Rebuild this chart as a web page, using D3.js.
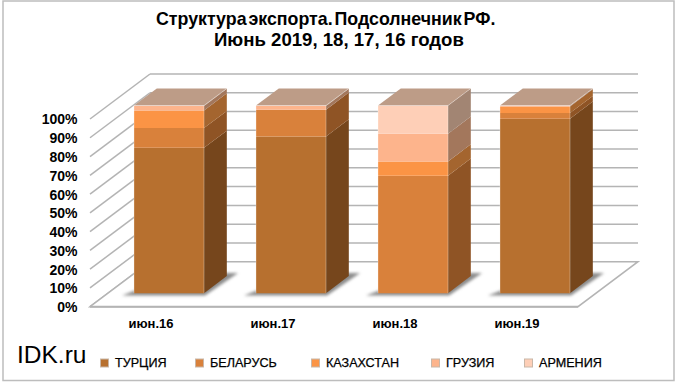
<!DOCTYPE html>
<html>
  <head>
    <meta charset="utf-8" />
    <title>Подсолнечник</title>
    <script src="https://d3js.org/d3.v7.min.js"></script>
    <style>
      html, body { margin: 0; padding: 0; background: #fff; }
      svg { display: block; }
      text { font-family: "Liberation Sans", Arial, sans-serif; fill: #000; }
    </style>
  </head>

  <body>
    <svg id="viz" width="680" height="385"></svg>

    <script>
        var categories = ["июн.16", "июн.17", "июн.18", "июн.19"];
        var seriesNames = ["ТУРЦИЯ", "БЕЛАРУСЬ", "КАЗАХСТАН", "ГРУЗИЯ", "АРМЕНИЯ"];
        var turkey = [77.5, 83.5, 0, 93];
        var belarus = [10.5, 14.3, 62.6, 3];
        var kazakhstan = [9.4, 0, 7.6, 3.5];
        var georgia = [2.4, 2, 14.8, 0.3];
        var armenia = [0.2, 0.2, 15, 0.2];
        var yTicks = [0, 10, 20, 30, 40, 50, 60, 70, 80, 90, 100];
        var titleLines = ["Структура экспорта. Подсолнечник РФ.", "Июнь 2019, 18, 17, 16 годов"];

        var frontColors = ["#b7702f", "#d9813b", "#fb9445", "#fdb48c", "#fecfb7"];
        var sideColors = ["#76461c", "#8f5425", "#a4652f", "#a3775c", "#a28573"];
        var topColor = "#bd9c87";
        var gridColor = "#b4b4b4";

        var values = [turkey, belarus, kazakhstan, georgia, armenia];

        var svg = d3.select("#viz");

        var defs = svg.append("defs");
        defs.append("filter").attr("id", "blur")
            .attr("x", "-20%").attr("y", "-50%").attr("width", "140%").attr("height", "200%")
            .append("feGaussianBlur").attr("stdDeviation", 1.8);

        svg.append("rect")
            .attr("x", 3).attr("y", 1)
            .attr("width", 671).attr("height", 379.5)
            .attr("fill", "#fff")
            .attr("stroke", "#bdbdbd")
            .attr("stroke-width", 1.5);

        var y = d3.scaleLinear().domain([0, 100]).range([306.7, 119]);
        var x = d3.scaleBand().domain(categories).range([90, 578])
            .paddingInner(0.426).paddingOuter(0.213);

        // depth goes 0 (front of floor) to 1 (back wall)
        var depthX = d3.scaleLinear().domain([0, 1]).range([0, 60]);
        var depthY = d3.scaleLinear().domain([0, 1]).range([0, -45]);
        var barFront = 0.3;
        var barBack = 0.68;

        function pt(px, v, z) {
            return [px + depthX(z), y(v) + depthY(z)];
        }

        function poly(points) {
            return "M" + points.join("L") + "Z";
        }

        var grid = svg.append("g")
            .attr("fill", "none")
            .attr("stroke", gridColor)
            .attr("stroke-width", 1.5);

        grid.selectAll(".back")
            .data(yTicks)
            .enter().append("path")
            .attr("class", "back")
            .attr("d", function(d) {
                return "M" + pt(90, d, 1) + "L" + pt(578, d, 1);
            });

        grid.selectAll(".side")
            .data(yTicks)
            .enter().append("path")
            .attr("class", "side")
            .attr("d", function(d) {
                return "M" + pt(90, d, 0) + "L" + pt(90, d, 1);
            });

        // floor
        grid.append("path")
            .attr("d", poly([pt(90, 0, 0), pt(578, 0, 0), pt(578, 0, 1), pt(90, 0, 1)]))
            .attr("fill", "#fff");
        grid.append("path")
            .attr("d", "M" + pt(90, 0, 0) + "L" + pt(578, 0, 0))
            .attr("stroke-width", 2);

        // shadows on the floor
        svg.append("g").selectAll("path")
            .data(categories)
            .enter().append("path")
            .attr("d", function(c) {
                var l = x(c), r = x(c) + x.bandwidth();
                return poly([pt(l - 9, 0, 0.25), pt(r + 4, 0, 0.25), pt(r + 7, 0, 0.75), pt(l + 20, 0, 0.75)]);
            })
            .attr("fill", "#8c8c8c")
            .attr("filter", "url(#blur)");

        var barsG = svg.append("g");

        categories.forEach(function(c, i) {
            var l = x(c), r = x(c) + x.bandwidth();
            var g = barsG.append("g");
            var base = 0;
            values.forEach(function(s, k) {
                var v = s[i];
                if (v <= 0) return;
                var v0 = base, v1 = base + v;
                base = v1;
                g.append("path")
                    .attr("d", poly([pt(r, v0, barFront), pt(r, v0, barBack), pt(r, v1, barBack), pt(r, v1, barFront)]))
                    .attr("fill", sideColors[k]);
                g.append("path")
                    .attr("d", poly([pt(l, v0, barFront), pt(r, v0, barFront), pt(r, v1, barFront), pt(l, v1, barFront)]))
                    .attr("fill", frontColors[k]);
            });
            g.append("path")
                .attr("d", poly([pt(l, base, barFront), pt(r, base, barFront), pt(r, base, barBack), pt(l, base, barBack)]))
                .attr("fill", topColor);
            // light edge along the corners
            g.append("path")
                .attr("d", "M" + pt(l, 0, barFront) + "L" + pt(l, base, barFront) + "L" + pt(r, base, barFront) + "L" + pt(r, 0, barFront)
                    + "M" + pt(r, base, barFront) + "L" + pt(r, base, barBack))
                .attr("fill", "none")
                .attr("stroke", "#fff")
                .attr("stroke-opacity", 0.3);
        });

        var yAxis = d3.axisLeft(y).tickValues(yTicks)
            .tickFormat(function(d) { return d + "%"; })
            .tickSize(0).tickPadding(0);
        var yG = svg.append("g")
            .attr("transform", "translate(77.5,0.5)")
            .call(yAxis);
        yG.select(".domain").remove();
        yG.selectAll("text")
            .style("font-family", '"Liberation Sans", Arial, sans-serif')
            .style("font-size", "14px")
            .style("font-weight", "bold");

        var xAxis = d3.axisBottom(x).tickSize(0).tickPadding(0);
        var xG = svg.append("g")
            .attr("transform", "translate(0,319)")
            .call(xAxis);
        xG.select(".domain").remove();
        xG.selectAll("text")
            .style("font-family", '"Liberation Sans", Arial, sans-serif')
            .style("font-size", "13px")
            .style("font-weight", "bold");

        var titleX = [156, 214];
        var titleSize = [17.8, 18.6];
        var titleSpacing = [-3, 0];
        svg.append("g").selectAll("text")
            .data(titleLines)
            .enter().append("text")
            .attr("x", function(d, i) { return titleX[i]; })
            .attr("y", function(d, i) { return 25 + i * 20.5; })
            .style("font-size", function(d, i) { return titleSize[i] + "px"; })
            .style("font-weight", "bold")
            .style("word-spacing", function(d, i) { return titleSpacing[i] + "px"; })
            .text(function(d) { return d; });

        svg.append("text")
            .attr("x", 17).attr("y", 363)
            .style("font-size", "24.5px")
            .text("IDK.ru");

        var legendX = [100.5, 195.5, 311.5, 431.5, 524.5];
        var legend = svg.append("g").selectAll("g")
            .data(seriesNames)
            .enter().append("g")
            .attr("transform", function(d, i) { return "translate(" + legendX[i] + ",363)"; });
        legend.append("rect")
            .attr("x", 0).attr("y", -4)
            .attr("width", 8).attr("height", 8)
            .attr("fill", function(d, i) { return frontColors[i]; })
            .attr("stroke", "#c9b7a8")
            .attr("stroke-width", 1);
        legend.append("text")
            .attr("x", 14.5).attr("y", 4)
            .style("font-size", "12.6px")
            .style("stroke", "#000")
            .style("stroke-width", 0.25)
            .text(function(d) { return d; });
    </script>
  </body>
</html>
